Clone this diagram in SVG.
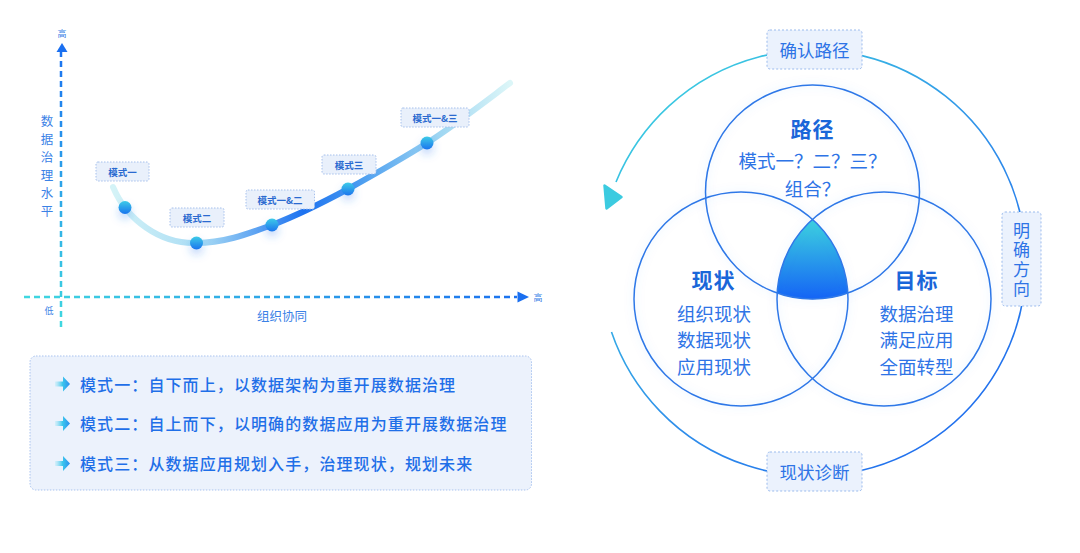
<svg xmlns="http://www.w3.org/2000/svg" width="1080" height="553" viewBox="0 0 1080 553">
<defs>
<linearGradient id="gY" x1="0" y1="43" x2="0" y2="327" gradientUnits="userSpaceOnUse"><stop offset="0" stop-color="#1a6ff0"/><stop offset="1" stop-color="#40d8e0"/></linearGradient>
<linearGradient id="gX" x1="24" y1="0" x2="530" y2="0" gradientUnits="userSpaceOnUse"><stop offset="0" stop-color="#40d8e0"/><stop offset="1" stop-color="#1a6ff0"/></linearGradient>
<linearGradient id="gCurve" x1="113" y1="0" x2="510" y2="0" gradientUnits="userSpaceOnUse"><stop offset="0" stop-color="#d4f3f7"/><stop offset="0.22" stop-color="#a9dcf4"/><stop offset="0.48" stop-color="#1d72f0"/><stop offset="0.62" stop-color="#4a9cf0"/><stop offset="0.82" stop-color="#9ed6f2"/><stop offset="1" stop-color="#dcf6f8"/></linearGradient>
<linearGradient id="gDot" x1="0" y1="0" x2="0" y2="1"><stop offset="0" stop-color="#3dcbe8"/><stop offset="1" stop-color="#1b74ee"/></linearGradient>
<linearGradient id="gBul" x1="0" y1="0" x2="1" y2="0"><stop offset="0" stop-color="#9fe3f5" stop-opacity="0.3"/><stop offset="0.5" stop-color="#3cc7ec"/><stop offset="1" stop-color="#2a8ff0"/></linearGradient>
<linearGradient id="gTri" x1="0" y1="219" x2="0" y2="298" gradientUnits="userSpaceOnUse"><stop offset="0" stop-color="#3dd3df"/><stop offset="1" stop-color="#1565f5"/></linearGradient>
<linearGradient id="gRing" x1="620" y1="60" x2="1000" y2="480" gradientUnits="userSpaceOnUse"><stop offset="0" stop-color="#3dd6df"/><stop offset="0.55" stop-color="#2f8eea"/><stop offset="1" stop-color="#1d66ef"/></linearGradient>
<filter id="fDot" x="-100%" y="-100%" width="300%" height="400%"><feDropShadow dx="0" dy="5" stdDeviation="4" flood-color="#2a7af0" flood-opacity="0.3"/></filter>
<filter id="fBul" x="-20%" y="-50%" width="140%" height="200%"><feGaussianBlur stdDeviation="0.5"/></filter>
<filter id="fGlow" x="-20%" y="-20%" width="140%" height="140%"><feDropShadow dx="0" dy="0" stdDeviation="5" flood-color="#4a8ef0" flood-opacity="0.18"/></filter>
</defs>
<style>
text{font-family:"Noto Sans CJK SC","Noto Sans",sans-serif;}
.lbl{fill:#e9f0fb;stroke:#a6c0ec;stroke-width:1;stroke-dasharray:1.5 1.5;}
.lt{font-size:9.5px;font-weight:700;fill:#2a6ad0;text-anchor:middle;dominant-baseline:central;}
.ax{font-size:9px;fill:#3b82e6;text-anchor:middle;dominant-baseline:central;}
.axl{font-size:12.5px;fill:#3b82e6;text-anchor:middle;dominant-baseline:central;}
.bl{font-size:16px;font-weight:500;fill:#1f6fe8;letter-spacing:1.1px;dominant-baseline:central;}
.vc{fill:none;stroke:#2f78e8;stroke-width:1.5;}
.vt{font-size:21px;font-weight:700;fill:#1a66d9;text-anchor:middle;dominant-baseline:central;letter-spacing:1px;}
.vi{font-size:18.5px;fill:#2e74e6;text-anchor:middle;dominant-baseline:central;}
.rb{fill:#ebf2fd;stroke:#9bbbed;stroke-width:1;stroke-dasharray:2 2;}
.rt{font-size:17.5px;fill:#2e74e6;text-anchor:middle;dominant-baseline:central;}
.rv{font-size:17px;fill:#2e74e6;writing-mode:vertical-rl;letter-spacing:2.5px;}
</style>

<g id="connectors">
<line x1="61" y1="327" x2="61" y2="52" stroke="url(#gY)" stroke-width="2.5" stroke-dasharray="6 4"/>
<polygon points="62,43 56.5,52 67.5,52" fill="#1a6ff0"/>
<line x1="24" y1="297" x2="517" y2="297" stroke="url(#gX)" stroke-width="2.5" stroke-dasharray="6 4"/>
<polygon points="529,297 517.5,291.5 517.5,302.5" fill="#1a6ff0"/>
<path d="M113 187 C127 220 160 244 196 243 C225 243 250 233 272 225 C298 215 322 203 348 189 C375 174 400 160 427 143 C455 125 482 104 510 83" fill="none" stroke="url(#gCurve)" stroke-width="6" stroke-linecap="round"/>
<path d="M611.5 332 A213 213 0 1 0 616 182" fill="none" stroke="url(#gRing)" stroke-width="1.6"/>
<polygon points="604.5,185.5 606.5,208.5 621.5,197" fill="#3ccbe0" stroke="#3ccbe0" stroke-width="2.5" stroke-linejoin="round"/>
</g>

<g id="axis-labels">
<text class="ax" x="62" y="33">高</text>
<text class="ax" x="538" y="297">高</text>
<text class="ax" x="49" y="310">低</text>
<text class="axl" x="282" y="315">组织协同</text>
<text class="axl" x="47" y="120">数</text>
<text class="axl" x="47" y="138">据</text>
<text class="axl" x="47" y="156">治</text>
<text class="axl" x="47" y="174">理</text>
<text class="axl" x="47" y="192">水</text>
<text class="axl" x="47" y="210">平</text>
</g>

<g id="dot1"><circle cx="125" cy="207.5" r="6.5" fill="url(#gDot)" filter="url(#fDot)"/></g>
<g id="dot2"><circle cx="196.5" cy="243" r="6.5" fill="url(#gDot)" filter="url(#fDot)"/></g>
<g id="dot3"><circle cx="272" cy="225" r="6.5" fill="url(#gDot)" filter="url(#fDot)"/></g>
<g id="dot4"><circle cx="348" cy="189" r="6.5" fill="url(#gDot)" filter="url(#fDot)"/></g>
<g id="dot5"><circle cx="427" cy="143" r="6.5" fill="url(#gDot)" filter="url(#fDot)"/></g>

<g id="label-m1"><rect class="lbl" x="96" y="162" width="53" height="19" rx="2"/><text class="lt" x="122.5" y="171.5">模式一</text></g>
<g id="label-m2"><rect class="lbl" x="170" y="208" width="54" height="19" rx="2"/><text class="lt" x="197" y="217.5">模式二</text></g>
<g id="label-m12"><rect class="lbl" x="246" y="190" width="68.5" height="19" rx="2"/><text class="lt" x="280" y="199.5">模式一&amp;二</text></g>
<g id="label-m3"><rect class="lbl" x="322" y="155" width="54" height="19" rx="2"/><text class="lt" x="349" y="164.5">模式三</text></g>
<g id="label-m13"><rect class="lbl" x="401" y="108" width="68" height="19" rx="2"/><text class="lt" x="435" y="117.5">模式一&amp;三</text></g>

<g id="modes-box">
<rect x="30" y="356" width="501.5" height="134" rx="6" fill="#ecf2fc" stroke="#a9c3ef" stroke-width="1" stroke-dasharray="1.5 1.5"/>
<path d="M55,381.5 h8 v-5 l7,7.5 l-7,7.5 v-5 h-8 z" fill="url(#gBul)" filter="url(#fBul)"/>
<text class="bl" x="80" y="383.5">模式一：自下而上，以数据架构为重开展数据治理</text>
<path d="M55,421 h8 v-5 l7,7.5 l-7,7.5 v-5 h-8 z" fill="url(#gBul)" filter="url(#fBul)"/>
<text class="bl" x="80" y="423">模式二：自上而下，以明确的数据应用为重开展数据治理</text>
<path d="M55,461 h8 v-5 l7,7.5 l-7,7.5 v-5 h-8 z" fill="url(#gBul)" filter="url(#fBul)"/>
<text class="bl" x="80" y="463">模式三：从数据应用规划入手，治理现状，规划未来</text>
</g>

<g id="venn-center"><path d="M812.5 219.4 A107 107 0 0 1 847.8 293 A107 107 0 0 1 777.2 293 A107 107 0 0 1 812.5 219.4 Z" fill="url(#gTri)"/></g>

<g id="circle-path">
<circle class="vc" cx="812.5" cy="192" r="107" filter="url(#fGlow)"/>
<text class="vt" x="812.5" y="128">路径</text>
<text class="vi" x="812.5" y="160">模式一？二？三？</text>
<text class="vi" x="812.5" y="187.5">组合？</text>
</g>
<g id="circle-status">
<circle class="vc" cx="741" cy="299" r="107" filter="url(#fGlow)"/>
<text class="vt" x="713.5" y="279">现状</text>
<text class="vi" x="714" y="312.5">组织现状</text>
<text class="vi" x="714" y="339">数据现状</text>
<text class="vi" x="714" y="365.5">应用现状</text>
</g>
<g id="circle-goal">
<circle class="vc" cx="884" cy="299" r="107" filter="url(#fGlow)"/>
<text class="vt" x="916.5" y="279">目标</text>
<text class="vi" x="916.5" y="312.5">数据治理</text>
<text class="vi" x="916.5" y="339">满足应用</text>
<text class="vi" x="916.5" y="365.5">全面转型</text>
</g>

<g id="tag-confirm"><rect class="rb" x="767" y="30" width="95" height="39" rx="3"/><text class="rt" x="814.5" y="49.5">确认路径</text></g>
<g id="tag-direction"><rect class="rb" x="1002" y="212" width="39" height="94" rx="3"/>
<text class="rv" x="1021.5" y="222">明确方向</text></g>
<g id="tag-diagnose"><rect class="rb" x="767" y="452" width="95" height="39" rx="3"/><text class="rt" x="814.5" y="471">现状诊断</text></g>
</svg>
